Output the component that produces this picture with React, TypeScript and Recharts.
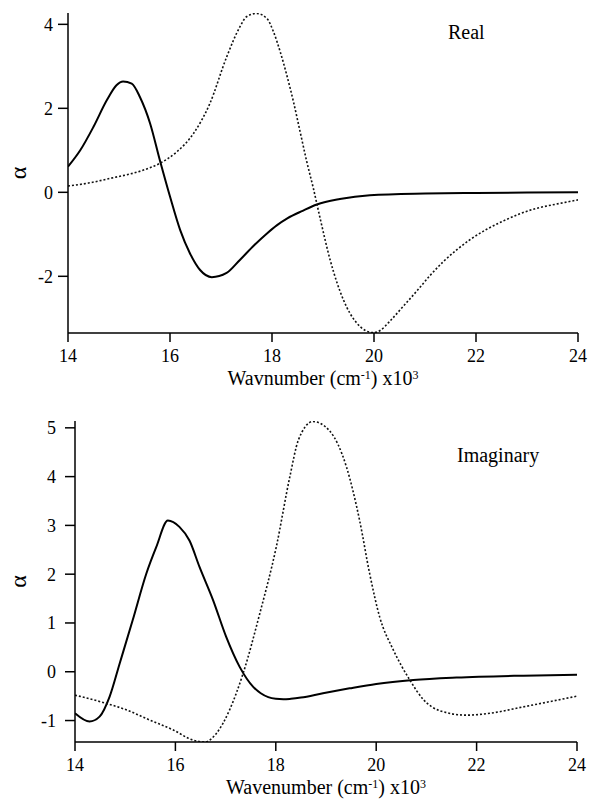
import React from "react";
import { LineChart, Line, XAxis, YAxis } from "recharts";

// ---------- Data (x in 10^3 cm^-1) ----------
const realSolidX = [14, 14.24, 14.5, 14.76, 14.95, 15.08, 15.25, 15.41, 15.61, 15.8, 16.0, 16.2, 16.39, 16.59, 16.82, 17.11, 17.37, 17.65, 17.89, 18.1, 18.3, 18.6, 18.88, 19.33, 19.92, 21.0, 22.0, 23.0, 24];
const realSolidY = [0.61, 1.0, 1.56, 2.19, 2.55, 2.64, 2.59, 2.27, 1.64, 0.77, -0.1, -0.9, -1.45, -1.85, -2.02, -1.92, -1.61, -1.26, -0.99, -0.78, -0.62, -0.44, -0.29, -0.16, -0.07, -0.03, -0.015, -0.005, 0];

const realDotX = [14, 14.4, 14.82, 15.48, 15.8, 16.13, 16.46, 16.78, 17.11, 17.37, 17.5, 17.7, 17.9, 18.03, 18.16, 18.29, 18.42, 18.55, 18.68, 18.81, 18.94, 19.14, 19.4, 19.66, 19.98, 20.12, 20.31, 20.57, 20.84, 21.1, 21.36, 21.62, 21.88, 22.21, 22.54, 22.86, 23.19, 23.58, 24];
const realDotY = [0.15, 0.22, 0.33, 0.53, 0.69, 0.96, 1.4, 2.11, 3.22, 3.94, 4.18, 4.26, 4.14, 3.82, 3.35, 2.79, 2.16, 1.45, 0.74, 0.1, -0.6, -1.61, -2.56, -3.11, -3.34, -3.29, -3.07, -2.72, -2.35, -1.98, -1.65, -1.37, -1.13, -0.88, -0.68, -0.51, -0.38, -0.28, -0.18];

const imagSolidX = [14, 14.29, 14.49, 14.69, 14.89, 15.15, 15.42, 15.62, 15.85, 16.08, 16.28, 16.48, 16.75, 17.01, 17.28, 17.55, 17.7, 17.85, 18.0, 18.15, 18.3, 18.5, 18.94, 19.47, 20.0, 20.74, 21.6, 22.93, 24];
const imagSolidY = [-0.85, -1.02, -0.92, -0.51, 0.17, 1.06, 2.01, 2.56, 3.1, 2.97, 2.69, 2.15, 1.47, 0.72, 0.1, -0.31, -0.44, -0.52, -0.555, -0.565, -0.555, -0.53, -0.44, -0.34, -0.25, -0.17, -0.12, -0.08, -0.06];

const imagDotX = [14, 14.49, 15.02, 15.49, 15.95, 16.35, 16.58, 16.82, 17.08, 17.35, 17.68, 18.01, 18.28, 18.45, 18.74, 19.07, 19.41, 19.67, 19.87, 20.07, 20.34, 20.67, 20.94, 21.27, 21.8, 22.27, 22.93, 24];
const imagDotY = [-0.48, -0.61, -0.78, -0.99, -1.19, -1.4, -1.44, -1.26, -0.78, -0.03, 1.19, 2.56, 4.0, 4.75, 5.13, 4.94, 4.19, 3.1, 2.01, 1.12, 0.45, -0.17, -0.57, -0.8, -0.89, -0.85, -0.72, -0.5];

const xTicks = [14, 16, 18, 20, 22, 24];
const realYTicks = [-2, 0, 2, 4];
const imagYTicks = [-1, 0, 1, 2, 3, 4, 5];

const realTitle = "Real";
const imagTitle = "Imaginary";
const realXLabel = "Wavnumber";
const imagXLabel = "Wavenumber";
const yLabel = "α";

const zip = (xs: number[], ys: number[]) => xs.map((x, i) => ({ x, y: ys[i] }));

const FONT = "Liberation Serif";

const xTitle = (word: string) => (props: any) => {
  const vb = props.viewBox || {};
  const cx = vb.x + vb.width / 2;
  const y = vb.y + 52;
  return (
    <text x={cx} y={y} textAnchor="middle" fontFamily={FONT} fontSize={20} fill="#000">
      <tspan>{word} (cm</tspan>
      <tspan dy={-6} fontSize={12}>-1</tspan>
      <tspan dy={6}>) x10</tspan>
      <tspan dy={-6} fontSize={12}>3</tspan>
    </text>
  );
};

const yTitle = (props: any) => {
  const vb = props.viewBox || {};
  const cy = vb.y + vb.height / 2;
  const cx = 18;
  return (
    <text x={cx} y={cy} textAnchor="middle" dominantBaseline="central" fontFamily={FONT} fontSize={24} fill="#000" transform={`rotate(-90 ${cx} ${cy})`}>
      {yLabel}
    </text>
  );
};

const tickStyle = { fill: "#000", fontSize: 18, fontFamily: FONT };

function Panel({ solid, dotted, domain, yTicks, yWidth, margin, xHeight, word, height, yTickMargin }: any) {
  return (
    <LineChart width={589} height={height} margin={margin} style={{ fontFamily: FONT }}>
      <XAxis
        type="number"
        dataKey="x"
        domain={[14, 24]}
        ticks={xTicks}
        interval={0}
        allowDataOverflow
        height={xHeight}
        tickSize={9}
        tickMargin={7}
        tick={tickStyle}
        axisLine={{ stroke: "#000", strokeWidth: 1.5 }}
        tickLine={{ stroke: "#000", strokeWidth: 1.5 }}
        label={{ content: xTitle(word) } as any}
      />
      <YAxis
        type="number"
        dataKey="y"
        domain={domain}
        ticks={yTicks}
        interval={0}
        allowDataOverflow
        width={yWidth}
        tickSize={10}
        tickMargin={yTickMargin}
        tick={tickStyle}
        axisLine={{ stroke: "#000", strokeWidth: 1.5 }}
        tickLine={{ stroke: "#000", strokeWidth: 1.5 }}
        label={{ content: yTitle } as any}
      />
      <Line
        data={solid}
        dataKey="y"
        type="monotone"
        stroke="#000"
        strokeWidth={2}
        dot={false}
        activeDot={false}
        isAnimationActive={false}
      />
      <Line
        data={dotted}
        dataKey="y"
        type="monotone"
        stroke="#111"
        strokeWidth={1.6}
        strokeDasharray="2 2"
        dot={false}
        activeDot={false}
        isAnimationActive={false}
      />
    </LineChart>
  );
}

export default function App() {
  return (
    <div style={{ position: "absolute", left: 0, top: 0, width: 589, height: 800, background: "#fff", fontFamily: FONT }}>
      <div style={{ position: "absolute", left: 0, top: 0 }}>
        <Panel
          solid={zip(realSolidX, realSolidY)}
          dotted={zip(realDotX, realDotY)}
          domain={[-3.35, 4.27]}
          yTicks={realYTicks}
          yWidth={68}
          yTickMargin={5}
          margin={{ top: 13, right: 11, bottom: 0, left: 0 }}
          xHeight={67}
          word={realXLabel}
          height={400}
        />
      </div>
      <div style={{ position: "absolute", left: 0, top: 400 }}>
        <Panel
          solid={zip(imagSolidX, imagSolidY)}
          dotted={zip(imagDotX, imagDotY)}
          domain={[-1.44, 5.14]}
          yTicks={imagYTicks}
          yWidth={75}
          yTickMargin={9}
          margin={{ top: 21, right: 12, bottom: 0, left: 0 }}
          xHeight={58}
          word={imagXLabel}
          height={400}
        />
      </div>
      <svg width={589} height={800} style={{ position: "absolute", left: 0, top: 0, pointerEvents: "none" }}>
        <text x={448} y={39} fontFamily={FONT} fontSize={20} fill="#000">{realTitle}</text>
        <text x={457} y={462} fontFamily={FONT} fontSize={20} fill="#000">{imagTitle}</text>
      </svg>
    </div>
  );
}
